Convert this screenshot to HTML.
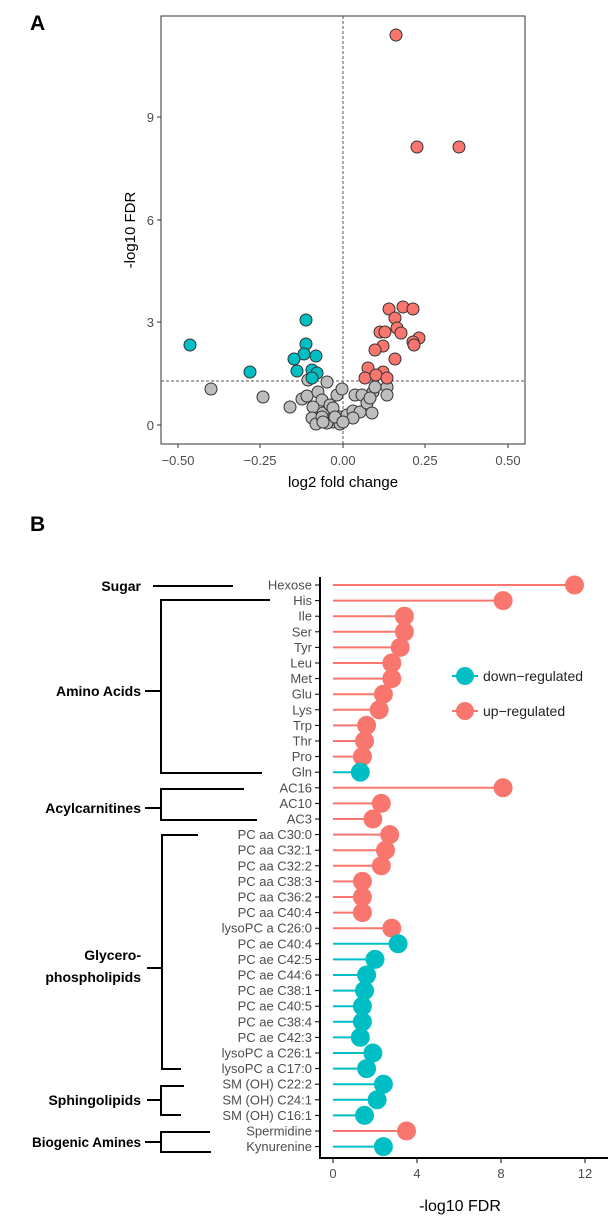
<!DOCTYPE html>
<html><head><meta charset="utf-8"><style>
body{margin:0;background:#fff}
text{font-family:"Liberation Sans",sans-serif}
</style></head><body>
<svg width="613" height="1219" viewBox="0 0 613 1219" xmlns="http://www.w3.org/2000/svg">
<text x="30" y="30" font-size="21" font-weight="bold">A</text>
<text x="30" y="531" font-size="21" font-weight="bold">B</text>
<!-- Panel A -->
<rect x="161" y="16" width="364" height="428" fill="none" stroke="#333" stroke-width="1"/>
<line x1="343" y1="16" x2="343" y2="444" stroke="#555" stroke-dasharray="3,2"/>
<line x1="161" y1="381" x2="525" y2="381" stroke="#555" stroke-dasharray="3,2"/>
<g stroke="#333"><line x1="157" y1="425" x2="161" y2="425"/><line x1="157" y1="322" x2="161" y2="322"/><line x1="157" y1="220" x2="161" y2="220"/><line x1="157" y1="117" x2="161" y2="117"/>
<line x1="178" y1="444" x2="178" y2="448"/><line x1="260" y1="444" x2="260" y2="448"/><line x1="343" y1="444" x2="343" y2="448"/><line x1="425" y1="444" x2="425" y2="448"/><line x1="508" y1="444" x2="508" y2="448"/></g>
<g font-size="13" fill="#4d4d4d" text-anchor="end"><text x="154" y="430">0</text><text x="154" y="327">3</text><text x="154" y="225">6</text><text x="154" y="122">9</text></g>
<g font-size="13" fill="#4d4d4d" text-anchor="middle"><text x="178" y="465">−0.50</text><text x="260" y="465">−0.25</text><text x="343" y="465">0.00</text><text x="425" y="465">0.25</text><text x="508" y="465">0.50</text></g>
<text x="343" y="487" font-size="15" text-anchor="middle">log2 fold change</text>
<text transform="translate(135,230) rotate(-90)" font-size="15" text-anchor="middle">-log10 FDR</text>
<g fill="#bdbdbd" stroke="#333" stroke-width="1">
<circle cx="211" cy="389" r="6"/><circle cx="263" cy="397" r="6"/><circle cx="290" cy="407" r="6"/><circle cx="302" cy="399" r="6"/><circle cx="307" cy="396" r="6"/><circle cx="327" cy="382" r="6"/><circle cx="318" cy="392" r="6"/><circle cx="322" cy="400" r="6"/><circle cx="313" cy="407" r="6"/><circle cx="323" cy="413" r="6"/><circle cx="312" cy="418" r="6"/><circle cx="316" cy="424" r="6"/><circle cx="330" cy="405" r="6"/><circle cx="333" cy="408" r="6"/><circle cx="337" cy="395" r="6"/><circle cx="342" cy="389" r="6"/><circle cx="340" cy="417" r="6"/><circle cx="333" cy="422" r="6"/><circle cx="327" cy="423" r="6"/><circle cx="340" cy="424" r="6"/><circle cx="347" cy="415" r="6"/><circle cx="353" cy="411" r="6"/><circle cx="355" cy="395" r="6"/><circle cx="362" cy="395" r="6"/><circle cx="360" cy="412" r="6"/><circle cx="353" cy="418" r="6"/><circle cx="367" cy="403" r="6"/><circle cx="372" cy="413" r="6"/><circle cx="373" cy="392" r="6"/><circle cx="375" cy="387" r="6"/><circle cx="387" cy="387" r="6"/><circle cx="387" cy="395" r="6"/><circle cx="370" cy="398" r="6"/><circle cx="322" cy="417" r="6"/><circle cx="308" cy="380" r="6"/><circle cx="323" cy="422" r="6"/><circle cx="335" cy="417" r="6"/><circle cx="343" cy="422" r="6"/>
</g>
<g fill="#f8766d" stroke="#333" stroke-width="1">
<circle cx="396" cy="35" r="6"/><circle cx="417" cy="147" r="6"/><circle cx="459" cy="147" r="6"/><circle cx="389" cy="309" r="6"/><circle cx="403" cy="307" r="6"/><circle cx="413" cy="309" r="6"/><circle cx="395" cy="318" r="6"/><circle cx="397" cy="328" r="6"/><circle cx="401" cy="333" r="6"/><circle cx="380" cy="332" r="6"/><circle cx="385" cy="332" r="6"/><circle cx="419" cy="338" r="6"/><circle cx="413" cy="342" r="6"/><circle cx="414" cy="345" r="6"/><circle cx="383" cy="346" r="6"/><circle cx="375" cy="350" r="6"/><circle cx="395" cy="359" r="6"/><circle cx="368" cy="368" r="6"/><circle cx="383" cy="372" r="6"/><circle cx="365" cy="378" r="6"/><circle cx="376" cy="375" r="6"/><circle cx="387" cy="378" r="6"/>
</g>
<g fill="#00bfc4" stroke="#333" stroke-width="1">
<circle cx="190" cy="345" r="6"/><circle cx="250" cy="372" r="6"/><circle cx="306" cy="320" r="6"/><circle cx="306" cy="344" r="6"/><circle cx="304" cy="354" r="6"/><circle cx="316" cy="356" r="6"/><circle cx="294" cy="359" r="6"/><circle cx="297" cy="371" r="6"/><circle cx="312" cy="370" r="6"/><circle cx="317" cy="373" r="6"/><circle cx="312" cy="378" r="6"/>
</g>
<!-- Panel B -->
<line x1="320" y1="577" x2="320" y2="1158" stroke="#000" stroke-width="2"/>
<line x1="319" y1="1158" x2="608" y2="1158" stroke="#000" stroke-width="2"/>
<g stroke="#000"><line x1="333" y1="1158" x2="333" y2="1163"/><line x1="417" y1="1158" x2="417" y2="1163"/><line x1="501" y1="1158" x2="501" y2="1163"/><line x1="585" y1="1158" x2="585" y2="1163"/></g>
<g font-size="13" fill="#4d4d4d" text-anchor="middle"><text x="333" y="1178">0</text><text x="417" y="1178">4</text><text x="501" y="1178">8</text><text x="585" y="1178">12</text></g>
<text x="460" y="1211" font-size="16" text-anchor="middle">-log10 FDR</text>
<g id="rows" font-size="13" fill="#4d4d4d" text-anchor="end"></g>
<!-- legend -->
<line x1="452" y1="676" x2="478" y2="676" stroke="#00bfc4" stroke-width="2"/><circle cx="465" cy="676" r="9" fill="#00bfc4"/>
<line x1="452" y1="711" x2="478" y2="711" stroke="#f8766d" stroke-width="2"/><circle cx="465" cy="711" r="9" fill="#f8766d"/>
<text x="483" y="681" font-size="14" fill="#222">down−regulated</text>
<text x="483" y="716" font-size="14" fill="#222">up−regulated</text>
<!-- brackets -->
<g stroke="#000" stroke-width="2" fill="none">
<line x1="153" y1="586" x2="233" y2="586"/>
<polyline points="270,600 161,600 161,773 262,773"/><line x1="145" y1="691" x2="161" y2="691"/>
<polyline points="244,789 161,789 161,820 257,820"/><line x1="145" y1="808" x2="161" y2="808"/>
<polyline points="198,835 162,835 162,1069 181,1069"/><line x1="147" y1="968" x2="162" y2="968"/>
<polyline points="184,1086 161,1086 161,1115 181,1115"/><line x1="147" y1="1100" x2="161" y2="1100"/>
<polyline points="210,1132 161,1132 161,1152 211,1152"/><line x1="145" y1="1142" x2="161" y2="1142"/>
</g>
<g font-size="14" font-weight="bold" text-anchor="end" fill="#000">
<text x="141" y="591">Sugar</text><text x="141" y="696">Amino Acids</text><text x="141" y="813">Acylcarnitines</text>
<text x="141" y="960">Glycero-</text><text x="141" y="982">phospholipids</text>
<text x="141" y="1105">Sphingolipids</text><text x="141" y="1147" font-size="13.5">Biogenic Amines</text>
</g>
</svg>
<script>
var d=[["Hexose",11.5,1],["His",8.1,1],["Ile",3.4,1],["Ser",3.4,1],["Tyr",3.2,1],["Leu",2.8,1],["Met",2.8,1],["Glu",2.4,1],["Lys",2.2,1],["Trp",1.6,1],["Thr",1.5,1],["Pro",1.4,1],["Gln",1.3,0],["AC16",8.1,1],["AC10",2.3,1],["AC3",1.9,1],["PC aa C30:0",2.7,1],["PC aa C32:1",2.5,1],["PC aa C32:2",2.3,1],["PC aa C38:3",1.4,1],["PC aa C36:2",1.4,1],["PC aa C40:4",1.4,1],["lysoPC a C26:0",2.8,1],["PC ae C40:4",3.1,0],["PC ae C42:5",2.0,0],["PC ae C44:6",1.6,0],["PC ae C38:1",1.5,0],["PC ae C40:5",1.4,0],["PC ae C38:4",1.4,0],["PC ae C42:3",1.3,0],["lysoPC a C26:1",1.9,0],["lysoPC a C17:0",1.6,0],["SM (OH) C22:2",2.4,0],["SM (OH) C24:1",2.1,0],["SM (OH) C16:1",1.5,0],["Spermidine",3.5,1],["Kynurenine",2.4,0]];
var g=document.getElementById("rows"),h="";
d.forEach(function(r,i){var y=585+15.6*i,x=333+21*r[1],c=r[2]?"#f8766d":"#00bfc4";
h+='<text x="312" y="'+(y+4.5)+'">'+r[0]+'</text><line x1="315" y1="'+y+'" x2="320" y2="'+y+'" stroke="#000"/>';
h+='<line x1="333" y1="'+y+'" x2="'+x+'" y2="'+y+'" stroke="'+c+'" stroke-width="2"/><circle cx="'+x+'" cy="'+y+'" r="9.5" fill="'+c+'"/>';});
g.innerHTML=h;
</script>
</body></html>
